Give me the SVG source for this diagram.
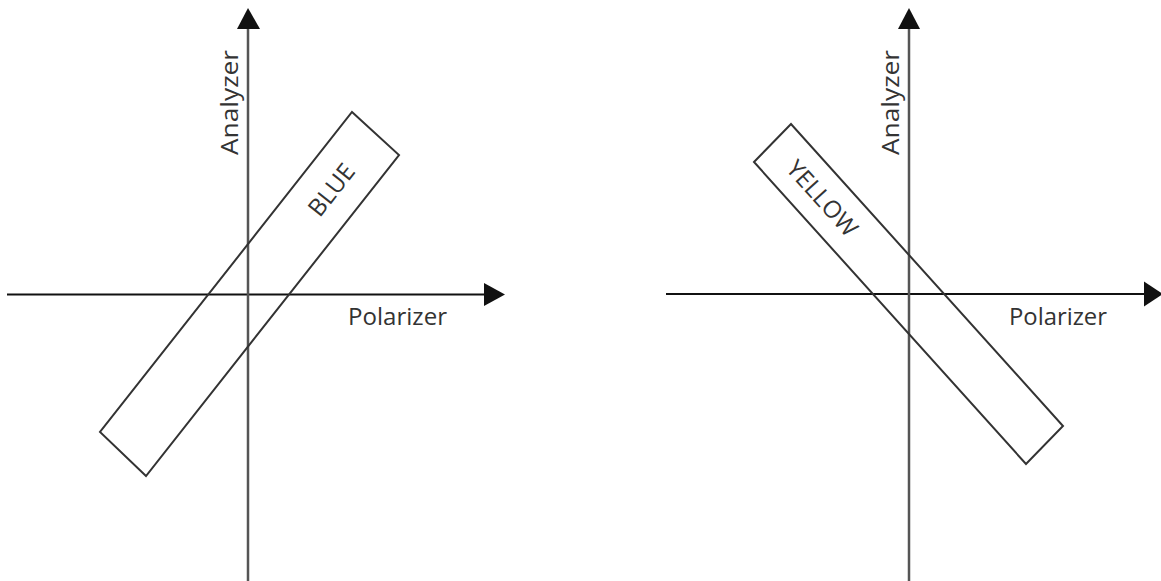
<svg xmlns="http://www.w3.org/2000/svg" width="1161" height="581" viewBox="0 0 1161 581">
<style>
.axh{stroke:#111;stroke-width:2;fill:none}
.axv{stroke:#555;stroke-width:2.5;fill:none}
.head{fill:#111;stroke:none}
.box{fill:none;stroke:#333;stroke-width:2;stroke-linejoin:miter}
.lbl{font-family:"Open Sans","Liberation Sans",sans-serif;font-size:24px;fill:#333}
</style>
<rect width="1161" height="581" fill="#fff"/>
<g id="connectors">
  <line class="axh" x1="7" y1="294.5" x2="486" y2="294.5"/>
  <polygon class="head" points="505,294.5 484,283 484,306"/>
  <line class="axv" x1="248" y1="26" x2="248" y2="581"/>
  <polygon class="head" points="248,8 237,29 260,29"/>
  <line class="axh" x1="666" y1="294" x2="1146" y2="294"/>
  <polygon class="head" points="1163,294 1144,281.5 1144,306.5"/>
  <line class="axv" x1="909" y1="26" x2="909" y2="581"/>
  <polygon class="head" points="909,8 898,29 920,29"/>
</g>
<g id="left-labels">
  <text class="lbl" x="348" y="325" textLength="99" lengthAdjust="spacingAndGlyphs">Polarizer</text>
  <text class="lbl" transform="translate(238,155) rotate(-90)" textLength="105" lengthAdjust="spacingAndGlyphs">Analyzer</text>
</g>
<g id="blue">
  <polygon class="box" points="352,112 399,155 146,476 100,432"/>
  <text class="lbl" text-anchor="middle" transform="translate(338,195) rotate(-51.8)">BLUE</text>
</g>
<g id="right-labels">
  <text class="lbl" x="1009" y="325" textLength="98" lengthAdjust="spacingAndGlyphs">Polarizer</text>
  <text class="lbl" transform="translate(899,155) rotate(-90)" textLength="105" lengthAdjust="spacingAndGlyphs">Analyzer</text>
</g>
<g id="yellow">
  <polygon class="box" points="754,162 791,124 1063,426 1026,464"/>
  <text class="lbl" text-anchor="middle" transform="translate(816,204) rotate(48)">YELLOW</text>
</g>
</svg>
